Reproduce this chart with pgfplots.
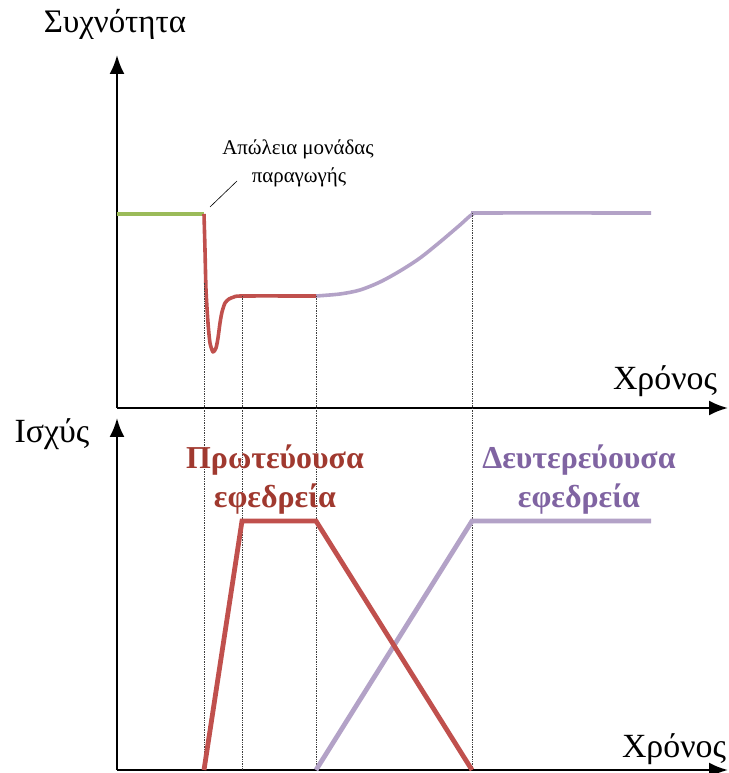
\documentclass[border=0pt]{standalone}
\usepackage{pgfplots}
\pgfplotsset{compat=1.18}
\usepackage{fontspec}
\setmainfont{Liberation Serif}
\usetikzlibrary{arrows.meta}
\definecolor{cgreen}{HTML}{9BBB59}
\definecolor{cred}{HTML}{C0504D}
\definecolor{cpurple}{HTML}{B3A2C7}
\definecolor{tred}{HTML}{A0392F}
\definecolor{tpurple}{HTML}{8064A2}
\pgfplotsset{
  panel/.style={
    x=1bp, y=1bp, xmin=0, xmax=611, ymin=0,
    axis lines=left, xtick=\empty, ytick=\empty, clip=false,
    anchor=south west,
    axis line style={line width=2.4bp},
    every outer x axis line/.append style={-{Latex[length=19bp,width=15bp]}},
    every outer y axis line/.append style={-{Latex[length=19bp,width=15bp]}},
  },
  dots/.style={densely dotted, line width=0.7bp, black!75, forget plot},
}
\begin{document}
\begin{tikzpicture}
\useasboundingbox (0,0) rectangle (729bp,773bp);
% ---------------- top panel: frequency
\begin{axis}[panel, ymax=353, at={(117bp,365bp)}]
\addplot[cgreen, line width=3.6bp] coordinates {(0,194) (87,194)};
\addplot[cpurple, line width=3.6bp, smooth] coordinates {
 (199,112) (223,114) (243,118) (263,126) (283,137) (303,150)
 (323,166) (343,183) (356,194) (368,195) (534,195)};
\addplot[cred, line width=3.6bp, smooth, tension=0.4, line join=round] coordinates {
 (87,194) (88,158) (89,118) (91,85) (93,65) (96,56) (99,60) (101,70)
 (103,85) (105,96) (108,105) (112,109) (117,111) (125,112) (199,112)};
\draw[line width=0.6bp] (axis cs:93,201) -- (axis cs:120,227);
\node[anchor=base, font=\fontsize{21}{24}\selectfont] at (axis cs:181,253) {Απώλεια μονάδας};
\node[anchor=base, font=\fontsize{21}{24}\selectfont] at (axis cs:182,225) {παραγωγής};
\node[anchor=base, font=\fontsize{33}{38}\selectfont] at (axis cs:-2,375) {Συχνότητα};
\node[anchor=base, font=\fontsize{34}{38}\selectfont] at (axis cs:548,18) {Χρόνος};
\end{axis}
% ---------------- bottom panel: power
\begin{axis}[panel, ymax=352, at={(117bp,3bp)}]
\addplot[dots] coordinates {(87,0) (87,487)};
\addplot[dots] coordinates {(125,0) (125,474)};
\addplot[dots] coordinates {(199,0) (199,474)};
\addplot[dots] coordinates {(355,0) (355,557)};
\addplot[cpurple, line width=4.8bp] coordinates {(199,0) (355,249) (534,249)};
\addplot[cred, line width=4.8bp] coordinates {(87,0) (125,249) (199,249) (355,0)};
\node[anchor=base, font=\fontsize{34}{38}\selectfont] at (axis cs:-65,328) {Ισχύς};
\node[anchor=base, font=\fontsize{34}{38}\selectfont] at (axis cs:557,13) {Χρόνος};
\node[anchor=base, text=tred, font=\bfseries\fontsize{32}{36}\selectfont] at (axis cs:158,302) {Πρωτεύουσα};
\node[anchor=base, text=tred, font=\bfseries\fontsize{32}{36}\selectfont] at (axis cs:158,263) {εφεδρεία};
\node[anchor=base, text=tpurple, font=\bfseries\fontsize{32}{36}\selectfont] at (axis cs:462,302) {Δευτερεύουσα};
\node[anchor=base, text=tpurple, font=\bfseries\fontsize{32}{36}\selectfont] at (axis cs:462,263) {εφεδρεία};
\end{axis}
\end{tikzpicture}
\end{document}
